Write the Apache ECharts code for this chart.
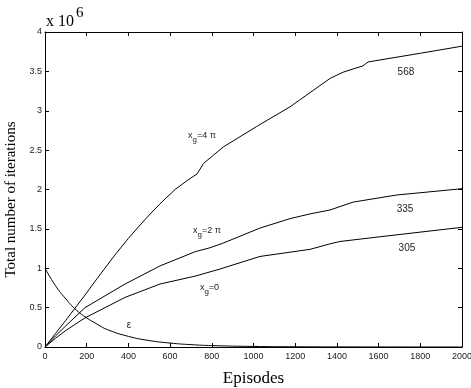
<!DOCTYPE html>
<html>
<head>
<meta charset="utf-8">
<script src="https://cdn.jsdelivr.net/npm/echarts@6/dist/echarts.min.js"></script>
<style>
  html, body { margin: 0; padding: 0; background: #fff; }
  #chart { width: 471px; height: 388px; }
</style>
</head>
<body>
<div id="chart"></div>
<script>
// x_g = 4 pi  (568)
var topX = [0, 50, 100, 192, 250, 336, 400, 480, 552, 624, 680, 730, 760, 855, 1015, 1175, 1287, 1367, 1430, 1525, 1550, 1800, 2000];
var topY = [0, 0.17, 0.34, 0.66, 0.87, 1.17, 1.38, 1.62, 1.82, 2.0, 2.11, 2.20, 2.33, 2.54, 2.80, 3.05, 3.26, 3.41, 3.49, 3.57, 3.62, 3.73, 3.82];
// x_g = 2 pi  (335)
var midX = [0, 50, 100, 192, 384, 552, 720, 791, 855, 1031, 1175, 1271, 1367, 1478, 1687, 2000];
var midY = [0, 0.14, 0.27, 0.50, 0.80, 1.03, 1.21, 1.26, 1.32, 1.51, 1.63, 1.69, 1.74, 1.84, 1.93, 2.01];
// x_g = 0  (305)
var lowX = [0, 50, 100, 192, 384, 552, 720, 839, 1031, 1271, 1367, 1415, 1607, 2000];
var lowY = [0, 0.11, 0.21, 0.37, 0.63, 0.80, 0.90, 0.99, 1.15, 1.24, 1.31, 1.34, 1.40, 1.52];
// epsilon (scaled to 1e6)
var epsX = [0, 50, 100, 150, 200, 250, 300, 400, 500, 600, 700, 800, 1000, 1200, 1500, 2000];
var epsY = [1, 0.78, 0.61, 0.47, 0.37, 0.29, 0.22, 0.135, 0.082, 0.05, 0.03, 0.018, 0.007, 0.003, 0.001, 0];

function pairs(xs, ys) {
  return xs.map(function (x, i) { return [x, ys[i]]; });
}

var chart = echarts.init(document.getElementById('chart'));
var tickFont = { fontFamily: 'Liberation Sans', fontSize: 9, color: '#222' };
var rich = {
  a: { fontFamily: 'Liberation Sans', fontSize: 9, color: '#222' },
  g: { fontFamily: 'Liberation Sans', fontSize: 8, color: '#222', padding: [8, 0, 0, 0] }
};

function tag(x, y, text, align) {
  return {
    coord: [x, y], symbol: 'circle', symbolSize: 0,
    label: { show: true, position: 'inside', formatter: text, align: align || 'left', rich: rich,
      fontFamily: 'Liberation Sans', fontSize: 10, color: '#222' }
  };
}

var axisCommon = {
  type: 'value',
  axisLine: { show: true, onZero: false, lineStyle: { color: '#000', width: 1 } },
  axisTick: { show: true, inside: true, length: 4, lineStyle: { color: '#000' } },
  splitLine: { show: false }
};

var option = {
  animation: false,
  backgroundColor: '#fff',
  title: {
    text: '{a|x 10}{b|6}',
    left: 41, top: 0,
    textStyle: {
      fontWeight: 'normal',
      rich: {
        a: { fontFamily: 'Liberation Serif', fontSize: 16, color: '#000', padding: [9, 0, 0, 0] },
        b: { fontFamily: 'Liberation Serif', fontSize: 15, color: '#000', padding: [0, 0, 9, 2] }
      }
    }
  },
  grid: { left: 45, right: 9, top: 32, bottom: 41, outerBoundsMode: 'none', containLabel: false },
  xAxis: [
    Object.assign({}, axisCommon, {
      min: 0, max: 2000, interval: 200, position: 'bottom',
      axisLabel: Object.assign({ margin: 5, formatter: function (v) { return String(v); } }, tickFont),
      name: 'Episodes', nameLocation: 'middle', nameGap: 23,
      nameTextStyle: { fontFamily: 'Liberation Serif', fontSize: 17, color: '#000' }
    }),
    Object.assign({}, axisCommon, {
      min: 0, max: 2000, interval: 200, position: 'top',
      axisLabel: { show: false }
    })
  ],
  yAxis: [
    Object.assign({}, axisCommon, {
      min: 0, max: 4, interval: 0.5, position: 'left',
      axisLabel: Object.assign({ margin: 3 }, tickFont),
      name: 'Total number of iterations', nameLocation: 'middle', nameGap: 20,
      nameTextStyle: { fontFamily: 'Liberation Serif', fontSize: 15, color: '#000', padding: [0, 20, 0, 0] }
    }),
    Object.assign({}, axisCommon, {
      min: 0, max: 4, interval: 0.5, position: 'right',
      axisLabel: { show: false }
    })
  ],
  series: [
    {
      type: 'line', data: pairs(topX, topY), showSymbol: false,
      lineStyle: { color: '#000', width: 1 },
      markPoint: { data: [tag(686, 2.68, '{a|x}{g|g}{a|=4 π}'), tag(1731, 3.49, '568', 'center')] }
    },
    {
      type: 'line', data: pairs(midX, midY), showSymbol: false,
      lineStyle: { color: '#000', width: 1 },
      markPoint: { data: [tag(710, 1.48, '{a|x}{g|g}{a|=2 π}'), tag(1727, 1.75, '335', 'center')] }
    },
    {
      type: 'line', data: pairs(lowX, lowY), showSymbol: false,
      lineStyle: { color: '#000', width: 1 },
      markPoint: { data: [tag(743, 0.75, '{a|x}{g|g}{a|=0}'), tag(1736, 1.25, '305', 'center')] }
    },
    {
      type: 'line', data: pairs(epsX, epsY), showSymbol: false, smooth: true,
      lineStyle: { color: '#000', width: 1 },
      markPoint: { data: [tag(403, 0.27, 'ε', 'center')] }
    }
  ]
};
chart.setOption(option);
</script>
</body>
</html>
